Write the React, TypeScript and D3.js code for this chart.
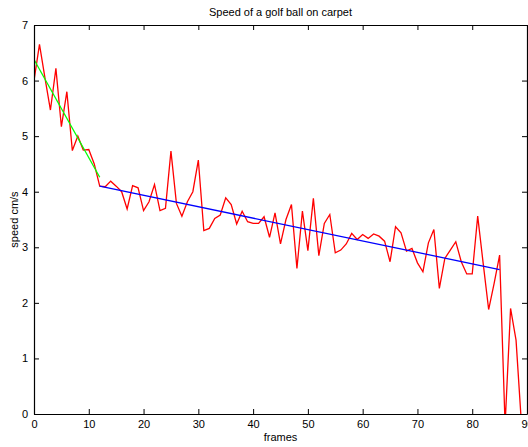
import React, { useEffect, useRef } from "react";
import * as d3 from "d3";

const width = 528;
const height = 447;
const margin = { top: 25, right: 1, bottom: 33, left: 34 };

// speed per frame (cm/s)
const speed = [
  6.0, 6.65, 6.05, 5.47, 6.22, 5.17, 5.8, 4.74, 5.0, 4.75,
  4.76, 4.5, 4.1, 4.09, 4.19, 4.1, 4.0, 3.69, 4.11, 4.07,
  3.66, 3.82, 4.13, 3.66, 3.7, 4.73, 3.79, 3.56, 3.82, 4.0,
  4.57, 3.3, 3.34, 3.52, 3.58, 3.89, 3.77, 3.42, 3.65, 3.46,
  3.43, 3.43, 3.55, 3.18, 3.62, 3.06, 3.5, 3.77, 2.62, 3.65,
  2.94, 3.88, 2.85, 3.43, 3.59, 2.9, 2.95, 3.06, 3.25, 3.14,
  3.23, 3.16, 3.24, 3.2, 3.11, 2.74, 3.37, 3.26, 2.93, 2.98,
  2.72, 2.56, 3.08, 3.32, 2.26, 2.8, 2.95, 3.1, 2.74, 2.52,
  2.52, 3.56, 2.71, 1.88, 2.35, 2.86, -0.2, 1.9, 1.33, -0.2,
  -0.2,
];

// fitted lines [frame, speed]
const fitStart: [number, number][] = [[0, 6.38], [12, 4.26]];
const fitRest: [number, number][] = [[12, 4.1], [85, 2.6]];

const xTicks = [0, 10, 20, 30, 40, 50, 60, 70, 80, 90];
const yTicks = [0, 1, 2, 3, 4, 5, 6, 7];

export default function App() {
  const ref = useRef<SVGSVGElement>(null);

  useEffect(() => {
    const svg = d3.select(ref.current);
    svg.selectAll("*").remove();
    const w = width - margin.left - margin.right;
    const h = height - margin.top - margin.bottom;
    const x = d3.scaleLinear().domain([0, 90]).range([0, w]);
    const y = d3.scaleLinear().domain([0, 7]).range([h, 0]);
    const font = "Liberation Sans, Arial, sans-serif";

    svg.append("rect").attr("width", width).attr("height", height).attr("fill", "#fff");

    const g = svg.append("g").attr("transform", `translate(${margin.left},${margin.top})`);

    g.append("clipPath").attr("id", "clip")
      .append("rect").attr("width", w).attr("height", h);

    const line = d3.line<[number, number]>().x(d => x(d[0])).y(d => y(d[1]));
    const plot = g.append("g").attr("clip-path", "url(#clip)");

    plot.append("path")
      .attr("d", line(speed.map((v, i) => [i, v] as [number, number])))
      .attr("fill", "none").attr("stroke", "#ff0000").attr("stroke-width", 1.3);
    plot.append("path").attr("d", line(fitStart))
      .attr("fill", "none").attr("stroke", "#00ff00").attr("stroke-width", 1.3);
    plot.append("path").attr("d", line(fitRest))
      .attr("fill", "none").attr("stroke", "#0000ff").attr("stroke-width", 1.3);

    // axes with inward ticks, box
    const axB = g.append("g").attr("transform", `translate(0,${h})`)
      .call(d3.axisBottom(x).tickValues(xTicks).tickSizeInner(-5).tickSizeOuter(0).tickPadding(6));
    const axT = g.append("g")
      .call(d3.axisTop(x).tickValues(xTicks).tickSizeInner(-5).tickSizeOuter(0).tickFormat(() => ""));
    const axL = g.append("g")
      .call(d3.axisLeft(y).tickValues(yTicks).tickSizeInner(-5).tickSizeOuter(0).tickPadding(6)
        .tickFormat(d3.format("d")));
    const axR = g.append("g").attr("transform", `translate(${w},0)`)
      .call(d3.axisRight(y).tickValues(yTicks).tickSizeInner(-5).tickSizeOuter(0).tickFormat(() => ""));
    [axB, axT, axL, axR].forEach(a => {
      a.selectAll("path").attr("stroke", "#000").attr("stroke-width", 1.2);
      a.selectAll("line").attr("stroke", "#000");
      a.selectAll("text").attr("fill", "#000").style("font-family", font).style("font-size", "11px");
    });

    svg.append("text").attr("x", margin.left + w / 2).attr("y", 16)
      .attr("text-anchor", "middle").style("font-family", font).style("font-size", "11px")
      .text("Speed of a golf ball on carpet");
    svg.append("text").attr("x", margin.left + w / 2).attr("y", 441)
      .attr("text-anchor", "middle").style("font-family", font).style("font-size", "11px")
      .text("frames");
    svg.append("text")
      .attr("transform", `translate(18,${margin.top + h / 2}) rotate(-90)`)
      .attr("text-anchor", "middle").style("font-family", font).style("font-size", "11px")
      .text("speed cm/s");
  }, []);

  return (
    <svg ref={ref} width={width} height={height}
      style={{ position: "absolute", left: 0, top: 0, display: "block" }} />
  );
}
